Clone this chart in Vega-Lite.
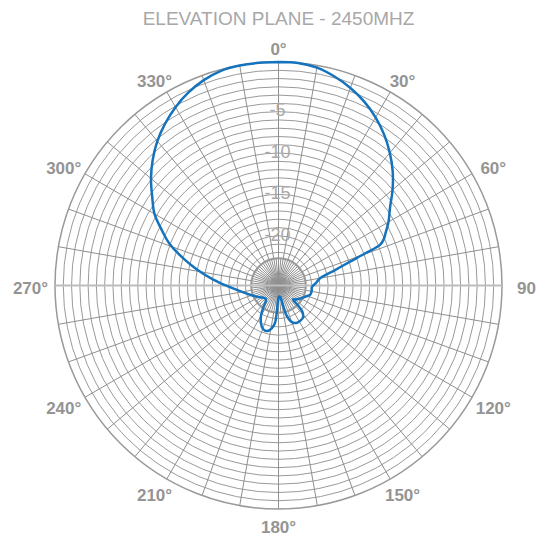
{
  "$schema": "https://vega.github.io/schema/vega-lite/v6.json",
  "width": 447,
  "height": 447,
  "autosize": "none",
  "padding": {"left": 55, "top": 62, "right": 42, "bottom": 29},
  "background": "white",
  "title": {"text": "ELEVATION PLANE - 2450MHZ", "font": "Liberation Sans", "fontSize": 19, "fontWeight": "normal", "color": "#a8a8a8", "anchor": "middle", "offset": 12},
  "config": {"view": {"stroke": null}},
  "datasets": {
    "pattern": [
      {"angle": 0, "db": 0}, {"angle": 5, "db": -0.02}, {"angle": 10, "db": -0.27}, {"angle": 15, "db": -0.86},
      {"angle": 20, "db": -1.6}, {"angle": 25, "db": -2.49}, {"angle": 30, "db": -3.55}, {"angle": 35, "db": -4.75},
      {"angle": 40, "db": -6.08}, {"angle": 45, "db": -7.49}, {"angle": 50, "db": -9.01}, {"angle": 55, "db": -10.55},
      {"angle": 60, "db": -11.66}, {"angle": 64, "db": -12.62}, {"angle": 66.5, "db": -13.17}, {"angle": 68.2, "db": -13.8},
      {"angle": 69.7, "db": -15.86}, {"angle": 71.6, "db": -17.89}, {"angle": 74.7, "db": -19.92}, {"angle": 80.2, "db": -21.91},
      {"angle": 86.2, "db": -22.46}, {"angle": 92.6, "db": -22.95}, {"angle": 100, "db": -22.94}, {"angle": 106, "db": -23.01},
      {"angle": 112, "db": -23.44}, {"angle": 122, "db": -23.98}, {"angle": 130, "db": -24.39}, {"angle": 134, "db": -24.58},
      {"angle": 135.5, "db": -23.62}, {"angle": 137.5, "db": -22.77}, {"angle": 142, "db": -22.17}, {"angle": 148, "db": -21.99},
      {"angle": 155, "db": -21.99}, {"angle": 161, "db": -22.41}, {"angle": 165, "db": -23.26}, {"angle": 167, "db": -24.34},
      {"angle": 169, "db": -25.31}, {"angle": 172, "db": -25.61}, {"angle": 176, "db": -25.67}, {"angle": 181, "db": -25.43},
      {"angle": 183, "db": -24.58}, {"angle": 184, "db": -23.38}, {"angle": 185.5, "db": -22.41}, {"angle": 189, "db": -21.75},
      {"angle": 194, "db": -21.32}, {"angle": 200, "db": -21.44}, {"angle": 205, "db": -21.99}, {"angle": 210, "db": -22.77},
      {"angle": 214, "db": -23.62}, {"angle": 218, "db": -24.46}, {"angle": 224, "db": -24.77}, {"angle": 233, "db": -24.58},
      {"angle": 242, "db": -24.1}, {"angle": 252, "db": -23.38}, {"angle": 260, "db": -22.53}, {"angle": 268, "db": -21.14},
      {"angle": 275, "db": -19.15}, {"angle": 281, "db": -17.0}, {"angle": 286, "db": -15.0}, {"angle": 291, "db": -12.87},
      {"angle": 295, "db": -11.53}, {"angle": 300, "db": -9.7}, {"angle": 305, "db": -8.38}, {"angle": 310, "db": -6.89},
      {"angle": 315, "db": -5.51}, {"angle": 320, "db": -4.23}, {"angle": 325, "db": -3.12}, {"angle": 330, "db": -2.12},
      {"angle": 335, "db": -1.27}, {"angle": 340, "db": -0.6}, {"angle": 345, "db": -0.15}, {"angle": 350, "db": -0.02},
      {"angle": 355, "db": 0}, {"angle": 360, "db": 0}
    ],
    "rings": [
      {"db": -1}, {"db": -2}, {"db": -3}, {"db": -4}, {"db": -5}, {"db": -6}, {"db": -7}, {"db": -8},
      {"db": -9}, {"db": -10}, {"db": -11}, {"db": -12}, {"db": -13}, {"db": -14}, {"db": -15}, {"db": -16},
      {"db": -17}, {"db": -18}, {"db": -19}, {"db": -20}, {"db": -21}, {"db": -22}, {"db": -23}
    ],
    "spokesLong": [
      {"angle": 0}, {"angle": 10}, {"angle": 20}, {"angle": 30}, {"angle": 40}, {"angle": 50}, {"angle": 60}, {"angle": 70}, {"angle": 80},
      {"angle": 100}, {"angle": 110}, {"angle": 120}, {"angle": 130}, {"angle": 140}, {"angle": 150}, {"angle": 160}, {"angle": 170}, {"angle": 180},
      {"angle": 190}, {"angle": 200}, {"angle": 210}, {"angle": 220}, {"angle": 230}, {"angle": 240}, {"angle": 250}, {"angle": 260},
      {"angle": 280}, {"angle": 290}, {"angle": 300}, {"angle": 310}, {"angle": 320}, {"angle": 330}, {"angle": 340}, {"angle": 350}
    ],
    "spokesShort": [
      {"angle": 5}, {"angle": 15}, {"angle": 25}, {"angle": 35}, {"angle": 45}, {"angle": 55}, {"angle": 65}, {"angle": 75}, {"angle": 85},
      {"angle": 95}, {"angle": 105}, {"angle": 115}, {"angle": 125}, {"angle": 135}, {"angle": 145}, {"angle": 155}, {"angle": 165}, {"angle": 175},
      {"angle": 185}, {"angle": 195}, {"angle": 205}, {"angle": 215}, {"angle": 225}, {"angle": 235}, {"angle": 245}, {"angle": 255}, {"angle": 265},
      {"angle": 275}, {"angle": 285}, {"angle": 295}, {"angle": 305}, {"angle": 315}, {"angle": 325}, {"angle": 335}, {"angle": 345}, {"angle": 355}
    ],
    "angleLabels": [
      {"angle": 0, "label": "0°"}, {"angle": 30, "label": "30°"}, {"angle": 60, "label": "60°"}, {"angle": 90, "label": "90"},
      {"angle": 120, "label": "120°"}, {"angle": 150, "label": "150°"}, {"angle": 180, "label": "180°"}, {"angle": 210, "label": "210°"},
      {"angle": 240, "label": "240°"}, {"angle": 270, "label": "270°"}, {"angle": 300, "label": "300°"}, {"angle": 330, "label": "330°"}
    ],
    "dbLabels": [
      {"db": -5, "label": "-5"}, {"db": -10, "label": "-10"}, {"db": -15, "label": "-15"}, {"db": -20, "label": "-20"}
    ]
  },
  "layer": [
    {
      "data": {"name": "rings"},
      "transform": [{"calculate": "datum.db+27", "as": "rr"}, {"calculate": "0", "as": "ox"}],
      "mark": {"type": "point", "shape": "circle", "filled": false, "stroke": "#9a9a9a", "strokeWidth": 1, "opacity": 1},
      "encoding": {
        "x": {"field": "ox", "type": "quantitative", "scale": {"domain": [-27, 27], "nice": false, "zero": false}, "axis": null},
        "y": {"field": "ox", "type": "quantitative", "scale": {"domain": [-27, 27], "nice": false, "zero": false}, "axis": null},
        "size": {"field": "rr", "type": "quantitative", "scale": {"type": "pow", "exponent": 2, "zero": true, "domain": [0, 27], "range": [0, 199809]}, "legend": null}
      }
    },
    {
      "data": {"name": "spokesLong"},
      "transform": [
        {"calculate": "0", "as": "ox"},
        {"calculate": "27*sin(datum.angle*PI/180)", "as": "ex"},
        {"calculate": "27*cos(datum.angle*PI/180)", "as": "ey"}
      ],
      "mark": {"type": "rule", "stroke": "#8f8f8f", "strokeWidth": 1},
      "encoding": {
        "x": {"field": "ox", "type": "quantitative"},
        "y": {"field": "ox", "type": "quantitative"},
        "x2": {"field": "ex"},
        "y2": {"field": "ey"}
      }
    },
    {
      "data": {"name": "spokesShort"},
      "transform": [
        {"calculate": "0", "as": "ox"},
        {"calculate": "3.3*sin(datum.angle*PI/180)", "as": "ex"},
        {"calculate": "3.3*cos(datum.angle*PI/180)", "as": "ey"}
      ],
      "mark": {"type": "rule", "stroke": "#8f8f8f", "strokeWidth": 1},
      "encoding": {
        "x": {"field": "ox", "type": "quantitative"},
        "y": {"field": "ox", "type": "quantitative"},
        "x2": {"field": "ex"},
        "y2": {"field": "ey"}
      }
    },
    {
      "data": {"values": [{"rr": 27, "ox": 0}]},
      "mark": {"type": "point", "shape": "circle", "filled": false, "stroke": "#999999", "strokeWidth": 1.5, "opacity": 1},
      "encoding": {
        "x": {"field": "ox", "type": "quantitative"},
        "y": {"field": "ox", "type": "quantitative"},
        "size": {"field": "rr", "type": "quantitative", "legend": null}
      }
    },
    {
      "data": {"values": [{"rr": 3.3, "ox": 0}]},
      "mark": {"type": "point", "shape": "circle", "filled": false, "stroke": "#999999", "strokeWidth": 2, "opacity": 1},
      "encoding": {
        "x": {"field": "ox", "type": "quantitative"},
        "y": {"field": "ox", "type": "quantitative"},
        "size": {"field": "rr", "type": "quantitative", "legend": null}
      }
    },
    {
      "data": {"values": [{"a": -27, "b": 27, "oy": 0}]},
      "mark": {"type": "rule", "stroke": "#bdbdbd", "strokeWidth": 2},
      "encoding": {
        "x": {"field": "a", "type": "quantitative"},
        "x2": {"field": "b"},
        "y": {"field": "oy", "type": "quantitative"}
      }
    },
    {
      "data": {"name": "dbLabels"},
      "transform": [{"calculate": "datum.db+27", "as": "ry"}, {"calculate": "0", "as": "ox"}],
      "mark": {"type": "text", "font": "Liberation Sans", "fontSize": 18, "color": "#a9a9a9", "align": "center", "baseline": "middle", "dy": 8, "dx": -1},
      "encoding": {
        "x": {"field": "ox", "type": "quantitative"},
        "y": {"field": "ry", "type": "quantitative"},
        "text": {"field": "label"}
      }
    },
    {
      "data": {"name": "angleLabels"},
      "transform": [
        {"calculate": "29.96*sin(datum.angle*PI/180)", "as": "lx"},
        {"calculate": "28.93*cos(datum.angle*PI/180)", "as": "ly"}
      ],
      "mark": {"type": "text", "font": "Liberation Sans", "fontSize": 17, "fontWeight": "bold", "color": "#949494", "align": "center", "baseline": "middle", "dy": 3.5},
      "encoding": {
        "x": {"field": "lx", "type": "quantitative"},
        "y": {"field": "ly", "type": "quantitative"},
        "text": {"field": "label"}
      }
    },
    {
      "data": {"name": "pattern"},
      "transform": [
        {"calculate": "(datum.db+27)*sin(datum.angle*PI/180)", "as": "px"},
        {"calculate": "(datum.db+27)*cos(datum.angle*PI/180)", "as": "py"}
      ],
      "mark": {"type": "line", "stroke": "#1573bd", "strokeWidth": 2.5, "interpolate": "catmull-rom"},
      "encoding": {
        "x": {"field": "px", "type": "quantitative"},
        "y": {"field": "py", "type": "quantitative"},
        "order": {"field": "angle", "type": "quantitative"}
      }
    }
  ]
}
